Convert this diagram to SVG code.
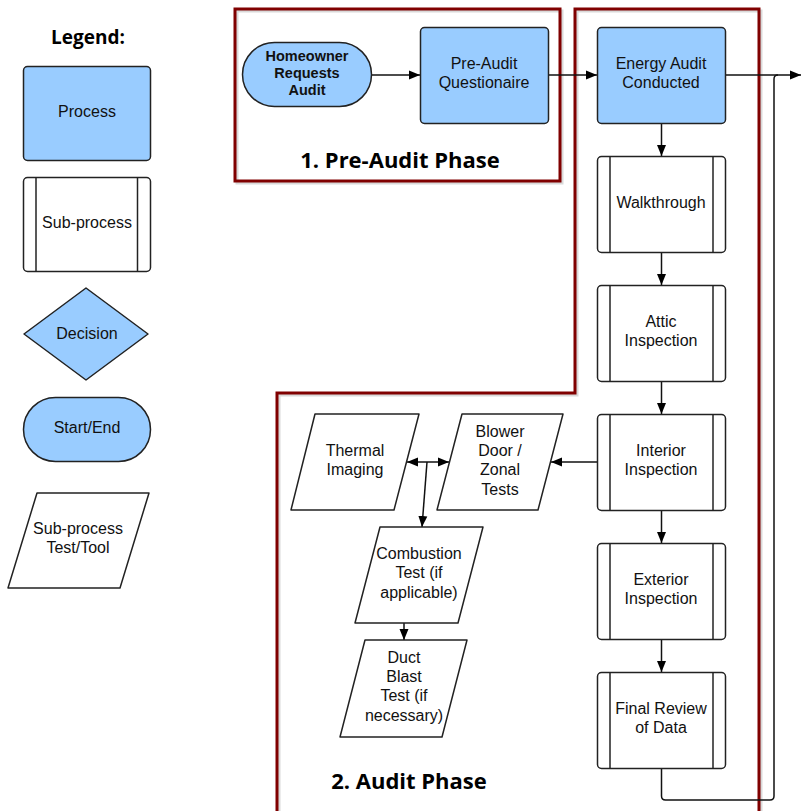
<svg xmlns="http://www.w3.org/2000/svg" width="801" height="811" viewBox="0 0 801 811">
<defs>
<marker id="ah" markerWidth="12" markerHeight="10" refX="11" refY="5" orient="auto-start-reverse" markerUnits="userSpaceOnUse">
<path d="M0,0.5 L11,5 L0,9.5 Z" fill="#000"/>
</marker>
<style>
.proc{fill:#99ccff;stroke:#222;stroke-width:1.5}
.sub{fill:#fff;stroke:#222;stroke-width:1.5}
.ln{stroke:#222;stroke-width:1.5;fill:none}
.t{font-family:"Liberation Sans",Arial,sans-serif;font-size:16px;fill:#111;text-anchor:middle}
.tb{font-family:"Liberation Sans",Arial,sans-serif;font-size:14.5px;font-weight:bold;fill:#111;text-anchor:middle}
.ph{font-family:"Open Sans","Liberation Sans",sans-serif;font-size:22px;font-weight:bold;fill:#000;text-anchor:middle}
.red{fill:none;stroke:#800000;stroke-width:3}
.shadow{fill:none;stroke:#000;stroke-opacity:0.15;stroke-width:3}
.c{stroke:#111;stroke-width:1.5;fill:none}
</style>
</defs>
<rect width="801" height="811" fill="#fff"/>

<!-- Phase frames -->
<g id="phase1">
<rect x="237" y="11" width="325" height="172" class="shadow"/>
<rect x="235" y="9" width="325" height="172" class="red"/>
<text x="400" y="168" class="ph">1. Pre-Audit Phase</text>
</g>
<g id="phase2">
<path d="M279,815 V395 H577 V11 H761 V815" class="shadow"/>
<path d="M277,815 V393 H575 V9 H759 V815" class="red"/>
<text x="409" y="789" class="ph">2. Audit Phase</text>
</g>

<!-- Legend -->
<g id="legend">
<text x="88" y="44" class="ph" style="font-size:19px">Legend:</text>
<g id="legend-process">
<rect x="23.5" y="66.5" width="127" height="94" rx="4" class="proc"/>
<text x="87" y="117" class="t">Process</text>
</g>
<g id="legend-subprocess">
<rect x="23.5" y="177.5" width="127" height="94" rx="4" class="sub"/>
<line x1="36" y1="177.5" x2="36" y2="271.5" class="ln"/>
<line x1="137.5" y1="177.5" x2="137.5" y2="271.5" class="ln"/>
<text x="87" y="228" class="t">Sub-process</text>
</g>
<g id="legend-decision">
<path d="M86,288 L148,334 L86,380 L24,334 Z" class="proc" stroke-linejoin="round"/>
<text x="87" y="339" class="t">Decision</text>
</g>
<g id="legend-startend">
<rect x="23.5" y="397.5" width="127" height="64" rx="32" class="proc"/>
<text x="87" y="433" class="t">Start/End</text>
</g>
<g id="legend-test">
<path d="M37,493 L149,493 L120,588 L8,588 Z" class="sub" stroke-linejoin="round"/>
<text x="78" y="534" class="t">Sub-process</text>
<text x="78" y="553" class="t">Test/Tool</text>
</g>
</g>

<!-- Connectors -->
<g id="connectors">
<line x1="371" y1="75" x2="420" y2="75" class="c" marker-end="url(#ah)"/>
<line x1="549" y1="75" x2="597" y2="75" class="c" marker-end="url(#ah)"/>
<line x1="726" y1="75" x2="801" y2="75" class="c" marker-end="url(#ah)"/>
<path d="M661.5,769 V796 Q661.5,800 665.5,800 H770 Q774,800 774,796 V79 Q774,75 778,75" class="c"/>
<line x1="661.5" y1="123" x2="661.5" y2="156" class="c" marker-end="url(#ah)"/>
<line x1="661.5" y1="253" x2="661.5" y2="285" class="c" marker-end="url(#ah)"/>
<line x1="661.5" y1="382" x2="661.5" y2="414" class="c" marker-end="url(#ah)"/>
<line x1="661.5" y1="511" x2="661.5" y2="543" class="c" marker-end="url(#ah)"/>
<line x1="661.5" y1="640" x2="661.5" y2="672" class="c" marker-end="url(#ah)"/>
<line x1="597" y1="462" x2="551" y2="462" class="c" marker-end="url(#ah)"/>
<line x1="407" y1="462" x2="449" y2="462" class="c" marker-start="url(#ah)" marker-end="url(#ah)"/>
<line x1="427" y1="462" x2="422" y2="527" class="c" marker-end="url(#ah)"/>
<line x1="404" y1="623" x2="404" y2="640" class="c" marker-end="url(#ah)"/>
</g>

<!-- Nodes -->
<g id="homeowner">
<rect x="242.5" y="42.5" width="129" height="64" rx="32" class="proc"/>
<text x="307" y="61" class="tb">Homeowner</text>
<text x="307" y="78" class="tb">Requests</text>
<text x="307" y="95" class="tb">Audit</text>
</g>
<g id="preaudit">
<rect x="420.5" y="27.5" width="128" height="96" rx="4" class="proc"/>
<text x="484" y="69" class="t">Pre-Audit</text>
<text x="484" y="88" class="t">Questionaire</text>
</g>
<g id="energyaudit">
<rect x="597.5" y="27.5" width="128" height="96" rx="4" class="proc"/>
<text x="661" y="69" class="t">Energy Audit</text>
<text x="661" y="88" class="t">Conducted</text>
</g>
<g id="walkthrough">
<rect x="597.5" y="156.5" width="128" height="96" rx="4" class="sub"/>
<line x1="610" y1="156.5" x2="610" y2="252.5" class="ln"/>
<line x1="713" y1="156.5" x2="713" y2="252.5" class="ln"/>
<text x="661" y="208" class="t">Walkthrough</text>
</g>
<g id="attic">
<rect x="597.5" y="285.5" width="128" height="96" rx="4" class="sub"/>
<line x1="610" y1="285.5" x2="610" y2="381.5" class="ln"/>
<line x1="713" y1="285.5" x2="713" y2="381.5" class="ln"/>
<text x="661" y="327" class="t">Attic</text>
<text x="661" y="346" class="t">Inspection</text>
</g>
<g id="interior">
<rect x="597.5" y="414.5" width="128" height="96" rx="4" class="sub"/>
<line x1="610" y1="414.5" x2="610" y2="510.5" class="ln"/>
<line x1="713" y1="414.5" x2="713" y2="510.5" class="ln"/>
<text x="661" y="456" class="t">Interior</text>
<text x="661" y="475" class="t">Inspection</text>
</g>
<g id="exterior">
<rect x="597.5" y="543.5" width="128" height="96" rx="4" class="sub"/>
<line x1="610" y1="543.5" x2="610" y2="639.5" class="ln"/>
<line x1="713" y1="543.5" x2="713" y2="639.5" class="ln"/>
<text x="661" y="585" class="t">Exterior</text>
<text x="661" y="604" class="t">Inspection</text>
</g>
<g id="finalreview">
<rect x="597.5" y="672.5" width="128" height="96" rx="4" class="sub"/>
<line x1="610" y1="672.5" x2="610" y2="768.5" class="ln"/>
<line x1="713" y1="672.5" x2="713" y2="768.5" class="ln"/>
<text x="661" y="714" class="t">Final Review</text>
<text x="661" y="733" class="t">of Data</text>
</g>
<g id="blower">
<path d="M462,414 L563,414 L538,510 L437,510 Z" class="sub" stroke-linejoin="round"/>
<text x="500" y="437" class="t">Blower</text>
<text x="500" y="456" class="t">Door /</text>
<text x="500" y="475" class="t">Zonal</text>
<text x="500" y="495" class="t">Tests</text>
</g>
<g id="thermal">
<path d="M315,414 L419,414 L394,510 L291,510 Z" class="sub" stroke-linejoin="round"/>
<text x="355" y="456" class="t">Thermal</text>
<text x="355" y="475" class="t">Imaging</text>
</g>
<g id="combustion">
<path d="M380,527 L483,527 L458,623 L355,623 Z" class="sub" stroke-linejoin="round"/>
<text x="419" y="559" class="t">Combustion</text>
<text x="419" y="578" class="t">Test (if</text>
<text x="419" y="598" class="t">applicable)</text>
</g>
<g id="ductblast">
<path d="M365,640 L467,640 L442,737 L340,737 Z" class="sub" stroke-linejoin="round"/>
<text x="404" y="663" class="t">Duct</text>
<text x="404" y="682" class="t">Blast</text>
<text x="404" y="701" class="t">Test (if</text>
<text x="404" y="721" class="t">necessary)</text>
</g>
</svg>
